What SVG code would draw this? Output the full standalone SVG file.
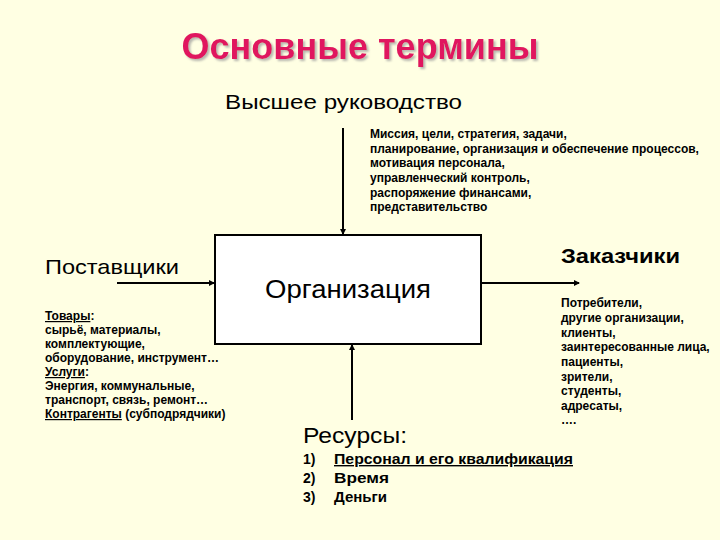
<svg xmlns="http://www.w3.org/2000/svg" width="720" height="540" viewBox="0 0 720 540">
<defs>
<marker id="ah" markerWidth="6" markerHeight="6" refX="5" refY="3" orient="auto" markerUnits="userSpaceOnUse">
<path d="M0,0 L6,3 L0,6 z" fill="#000"/>
</marker>
<filter id="sh" x="-5%" y="-20%" width="110%" height="140%">
<feDropShadow dx="2" dy="2" stdDeviation="1" flood-color="#999" flood-opacity="0.7"/>
</filter>
</defs>
<style>
text{font-family:"Liberation Sans",Arial,sans-serif;fill:#000}
.sm{font-size:12px;font-weight:bold}
.lst{font-size:14px;font-weight:bold}
.u{text-decoration:underline}
.conn line{stroke:#000;stroke-width:2;marker-end:url(#ah)}
</style>
<rect width="720" height="540" fill="#FFFFE3"/>
<text id="title" x="360" y="59" text-anchor="middle" font-size="36" font-weight="bold" style="fill:#E0175E" filter="url(#sh)">Основные термины</text>
<g id="mgmt">
<text x="225" y="109" font-size="21" textLength="237" lengthAdjust="spacingAndGlyphs">Высшее руководство</text>
<text class="sm" x="370" y="138">Миссия, цели, стратегия, задачи,</text>
<text class="sm" x="370" y="153">планирование, организация и обеспечение процессов,</text>
<text class="sm" x="370" y="167">мотивация персонала,</text>
<text class="sm" x="370" y="182">управленческий контроль,</text>
<text class="sm" x="370" y="197">распоряжение финансами,</text>
<text class="sm" x="370" y="211">представительство</text>
</g>
<g id="org">
<rect x="215" y="235" width="266" height="109" fill="#fff" stroke="#000" stroke-width="2"/>
<text x="265" y="298" font-size="25" textLength="166" lengthAdjust="spacingAndGlyphs">Организация</text>
</g>
<g id="suppliers">
<text x="45" y="274" font-size="21" textLength="134" lengthAdjust="spacingAndGlyphs">Поставщики</text>
<text class="sm" x="45" y="320"><tspan class="u">Товары</tspan>:</text>
<text class="sm" x="45" y="334">сырьё, материалы,</text>
<text class="sm" x="45" y="348">комплектующие,</text>
<text class="sm" x="45" y="362">оборудование, инструмент…</text>
<text class="sm" x="45" y="376"><tspan class="u">Услуги</tspan>:</text>
<text class="sm" x="45" y="390">Энергия, коммунальные,</text>
<text class="sm" x="45" y="404">транспорт, связь, ремонт…</text>
<text class="sm" x="45" y="418"><tspan class="u">Контрагенты</tspan> (субподрядчики)</text>
</g>
<g id="customers">
<text x="561" y="263" font-size="21" font-weight="bold" textLength="119" lengthAdjust="spacingAndGlyphs">Заказчики</text>
<text class="sm" x="561" y="307">Потребители,</text>
<text class="sm" x="561" y="322">другие организации,</text>
<text class="sm" x="561" y="337">клиенты,</text>
<text class="sm" x="561" y="351">заинтересованные лица,</text>
<text class="sm" x="561" y="366">пациенты,</text>
<text class="sm" x="561" y="381">зрители,</text>
<text class="sm" x="561" y="395">студенты,</text>
<text class="sm" x="561" y="410">адресаты,</text>
<text class="sm" x="561" y="424">….</text>
</g>
<g id="resources">
<text x="303" y="443" font-size="22" textLength="104" lengthAdjust="spacingAndGlyphs">Ресурсы:</text>
<text class="lst" x="303" y="464">1)</text>
<text class="lst u" x="334" y="464" textLength="239" lengthAdjust="spacingAndGlyphs">Персонал и его квалификация</text>
<text class="lst" x="303" y="483">2)</text>
<text class="lst" x="334" y="483" textLength="55" lengthAdjust="spacingAndGlyphs">Время</text>
<text class="lst" x="303" y="502">3)</text>
<text class="lst" x="334" y="502" textLength="53" lengthAdjust="spacingAndGlyphs">Деньги</text>
</g>
<g id="connectors" class="conn">
<line x1="343" y1="128" x2="343" y2="234"/>
<line x1="117" y1="283" x2="214" y2="283"/>
<line x1="481" y1="283" x2="579" y2="283"/>
<line x1="352" y1="420" x2="352" y2="345"/>
</g>
</svg>
